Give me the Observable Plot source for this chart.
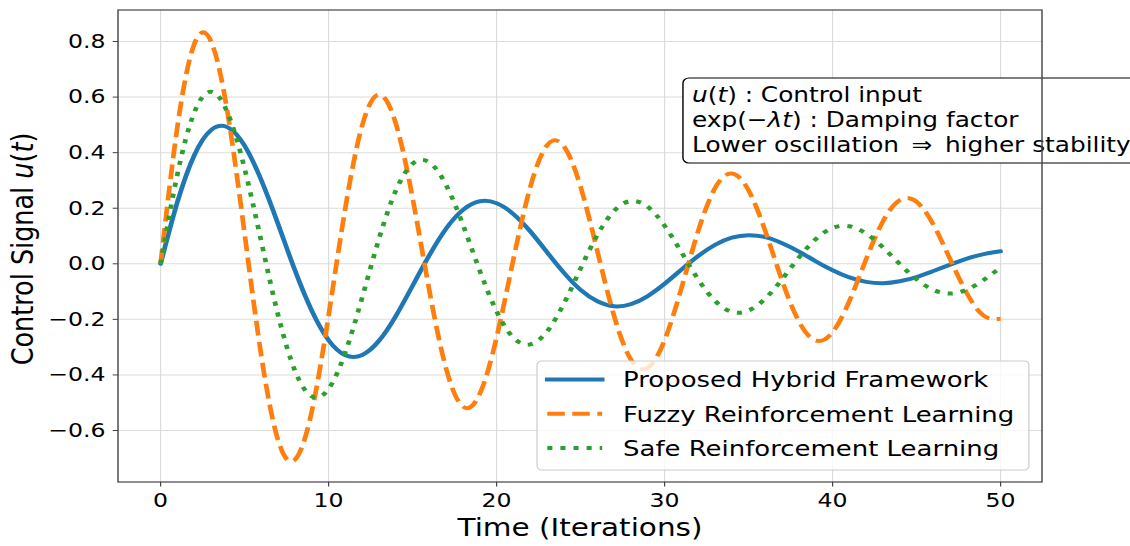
<!DOCTYPE html>
<html><head><meta charset="utf-8">
<script src="https://cdn.jsdelivr.net/npm/d3@7"></script>
<script src="https://cdn.jsdelivr.net/npm/@observablehq/plot@0.6"></script>
<style>html,body{margin:0;padding:0;background:#fff;} #chart{width:1130px;height:546px;overflow:hidden;}</style>
</head><body><div id="chart"></div>
<script>
// ---- data ----
const time = [0,1,2,3,4,5,6,7,8,9,10,11,12,13,14,15,16,17,18,19,20,21,22,23,24,25,26,27,28,29,30,31,32,33,34,35,36,37,38,39,40,41,42,43,44,45,46,47,48,49,50];
const proposed = [0,0.222,0.390,0.481,0.491,0.425,0.300,0.142,-0.024,-0.169,-0.275,-0.329,-0.328,-0.277,-0.188,-0.079,0.031,0.127,0.194,0.225,0.218,0.179,0.117,0.042,-0.032,-0.094,-0.135,-0.153,-0.145,-0.116,-0.072,-0.021,0.028,0.068,0.094,0.103,0.096,0.074,0.044,0.009,-0.023,-0.049,-0.065,-0.070,-0.063,-0.048,-0.026,-0.003,0.019,0.035,0.045];
const fuzzy = [0,0.493,0.790,0.801,0.539,0.109,-0.333,-0.636,-0.705,-0.531,-0.186,0.202,0.498,0.609,0.505,0.237,-0.097,-0.378,-0.514,-0.468,-0.265,0.016,0.275,0.426,0.423,0.277,0.045,-0.189,-0.345,-0.374,-0.275,-0.088,0.118,0.272,0.325,0.264,0.117,-0.062,-0.208,-0.276,-0.246,-0.134,0.017,0.153,0.229,0.223,0.141,0.016,-0.107,-0.187,-0.198];
const safe = [0,0.322,0.544,0.619,0.542,0.343,0.078,-0.186,-0.385,-0.477,-0.450,-0.318,-0.121,0.090,0.263,0.360,0.365,0.283,0.140,-0.025,-0.171,-0.266,-0.290,-0.244,-0.144,-0.017,0.104,0.191,0.226,0.205,0.137,0.042,-0.056,-0.133,-0.173,-0.168,-0.125,-0.055,0.023,0.089,0.129,0.135,0.109,0.059,-0.001,-0.056,-0.094,-0.107,-0.093,-0.058,-0.013];
const seriesNames = ["Proposed Hybrid Framework", "Fuzzy Reinforcement Learning", "Safe Reinforcement Learning"];
const seriesColors = ["#1f77b4", "#ff7f0e", "#2ca02c"];
const seriesDash = [null, "14.8,6.4", "4.3,6.8"];
const xTicks = [0,10,20,30,40,50];
const yTicks = [-0.6,-0.4,-0.2,0.0,0.2,0.4,0.6,0.8];
const annotationLines = ["Control input", "Damping factor", "Lower oscillation", "higher stability"];

// ---- layout (logical units; stretched horizontally to 1130px) ----
const W = 958, H = 546;
const mL = 100.04, mR = 74.6, mT = 10, mB = 64;

const allValues = [proposed, fuzzy, safe];
const tables = allValues.map((vals, k) => time.map((t, i) => ({t, u: vals[i], s: seriesNames[k]})));

const lineMarks = tables.map((tab, k) => Plot.line(tab, {
  x: "t", y: "u", curve: "natural",
  stroke: seriesColors[k], strokeWidth: 4,
  strokeDasharray: seriesDash[k] || undefined,
  strokeLinecap: seriesDash[k] ? "butt" : "round",
  strokeLinejoin: "round"
}));

const chart = Plot.plot({
  width: W, height: H,
  marginLeft: mL, marginRight: mR, marginTop: mT, marginBottom: mB,
  style: {fontFamily: "'DejaVu Sans', sans-serif", fontSize: "20px", background: "#fff", color: "#000"},
  x: {domain: [-2.5, 52.5]},
  y: {domain: [-0.7871, 0.9116]},
  marks: [
    Plot.gridX(xTicks, {stroke: "#dcdcdc", strokeOpacity: 1, strokeWidth: 1}),
    Plot.gridY(yTicks, {stroke: "#dcdcdc", strokeOpacity: 1, strokeWidth: 1}),
    ...lineMarks,
    Plot.axisX(xTicks, {tickSize: 4.5, tickPadding: 6, label: null, tickFormat: d => String(d), fontSize: 20, stroke: "#444"}),
    Plot.axisY(yTicks, {tickSize: 4.5, tickPadding: 6.5, label: null, tickFormat: d3.format(".1f"), fontSize: 20, stroke: "#444"})
  ]
});

const svg = d3.select(chart);
svg.attr("width", 1130).attr("height", 546).attr("preserveAspectRatio", "none")
   .style("max-width", "none").style("width", "1130px").style("height", "546px");

const fx0 = mL, fx1 = W - mR, fy0 = mT, fy1 = H - mB;

// axis labels
svg.append("text").attr("x", (fx0 + fx1) / 2).attr("y", 536.5)
  .attr("text-anchor", "middle").attr("font-size", 25).attr("fill", "#000")
  .text("Time (Iterations)");

const yl = svg.append("text").attr("transform", `translate(28,${(fy0 + fy1) / 2 + 3}) rotate(-90)`)
  .attr("text-anchor", "middle").attr("font-size", 25.5).attr("fill", "#000");
yl.append("tspan").text("Control Signal ");
yl.append("tspan").attr("font-style", "italic").text("u");
yl.append("tspan").text("(");
yl.append("tspan").attr("font-style", "italic").text("t");
yl.append("tspan").text(")");

// legend
const lg = svg.append("g").attr("font-size", 22).attr("fill", "#000").attr("text-anchor", "start");
lg.append("rect").attr("x", 455.3).attr("y", 361).attr("width", 417).attr("height", 109)
  .attr("rx", 4).attr("fill", "#fff").attr("fill-opacity", 0.8).attr("stroke", "#cccccc").attr("stroke-width", 1);
const rowY = [379.6, 413.8, 448];
seriesNames.forEach((name, k) => {
  const ln = lg.append("line").attr("x1", 464).attr("x2", 510.5).attr("y1", rowY[k]).attr("y2", rowY[k])
    .attr("stroke", seriesColors[k]).attr("stroke-width", 4)
    .attr("stroke-linecap", seriesDash[k] ? "butt" : "square");
  if (seriesDash[k]) ln.attr("stroke-dasharray", seriesDash[k]);
  lg.append("text").attr("x", 528.2).attr("y", rowY[k] + 7.8).attr("text-anchor", "start").text(name);
});

// annotation box
const an = svg.append("g").attr("font-size", 21).attr("fill", "#000").attr("text-anchor", "start");
an.append("rect").attr("x", 579).attr("y", 78).attr("width", 420).attr("height", 85)
  .attr("rx", 5).attr("fill", "#fff").attr("stroke", "#000").attr("stroke-width", 1.2);
const ax = 586.7;
const t1 = an.append("text").attr("x", ax).attr("y", 101.7).attr("text-anchor", "start");
t1.append("tspan").attr("font-style", "italic").text("u");
t1.append("tspan").text("(");
t1.append("tspan").attr("font-style", "italic").text("t");
t1.append("tspan").text(") : " + annotationLines[0]);
const t2 = an.append("text").attr("x", ax).attr("y", 126.7).attr("text-anchor", "start");
t2.append("tspan").text("exp(\u2212");
t2.append("tspan").attr("font-style", "italic").text("\u03bbt");
t2.append("tspan").text(") : " + annotationLines[1]);
const t3 = an.append("text").attr("x", ax).attr("y", 151.7).attr("text-anchor", "start");
t3.append("tspan").text(annotationLines[2] + " ");
t3.append("tspan").attr("dx", 4).text("\u21d2");
t3.append("tspan").attr("dx", 4).text(" " + annotationLines[3]);

// frame on top
svg.append("rect").attr("x", fx0).attr("y", fy0).attr("width", fx1 - fx0).attr("height", fy1 - fy0)
  .attr("fill", "none").attr("stroke", "#444").attr("stroke-width", 1.2);

document.getElementById("chart").appendChild(chart);
</script>
</body></html>
